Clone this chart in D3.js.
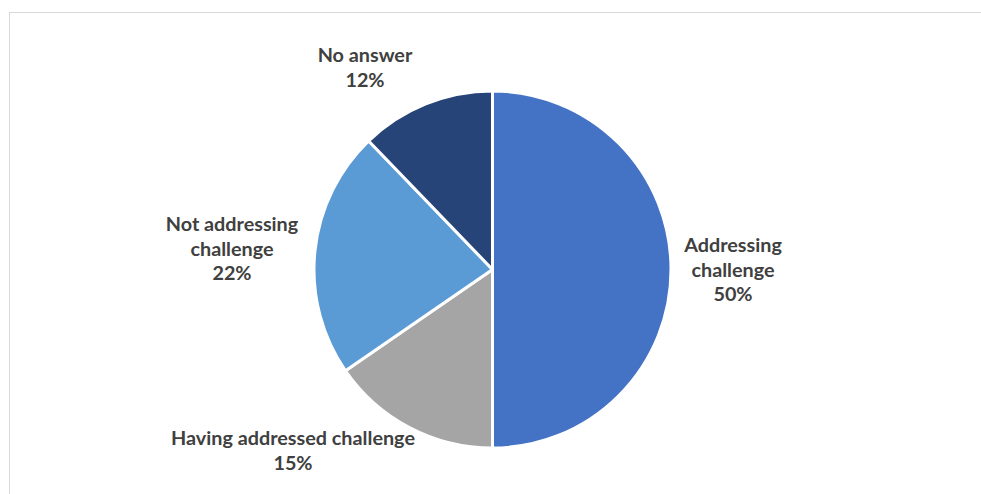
<!DOCTYPE html>
<html>
<head>
<meta charset="utf-8">
<script src="https://cdn.jsdelivr.net/npm/d3@7"></script>
<style>
  body { margin: 0; background: #fff; }
  text { font-family: Lato, "Open Sans", sans-serif; font-weight: 700; fill: #404040; }
</style>
</head>
<body>
<div id="chart-area"></div>
<script>
// data (clockwise from 12 o'clock)
const categories = ["Addressing challenge", "Having addressed challenge", "Not addressing challenge", "No answer"];
const values = [50.0, 15.4, 22.4, 12.2];
const colors = ["#4472C4", "#A5A5A5", "#5B9BD5", "#264478"];
// label text lines and anchor points
const labelLines = [["Addressing", "challenge"], ["Having addressed challenge"], ["Not addressing", "challenge"], ["No answer"]];
const labelPos = [[733, 252], [293, 445], [232, 231], [365, 62]];

const width = 981, height = 494;
const cx = 492.5, cy = 269.5, r = 178.5;

const svg = d3.select('#chart-area')
  .append('svg')
  .attr('width', width)
  .attr('height', height);

// chart frame
svg.append('rect')
  .attr('x', 9.5).attr('y', 12.5)
  .attr('width', width + 10).attr('height', height + 10)
  .attr('fill', 'none')
  .attr('stroke', '#d9d9d9')
  .attr('stroke-width', 1);

const data = categories.map((c, i) => ({cat: c, value: values[i], color: colors[i], lines: labelLines[i], pos: labelPos[i]}));

const pie = d3.pie().sort(null).value(d => d.value);
const arc = d3.arc().innerRadius(0).outerRadius(r);

const g = svg.append('g').attr('transform', `translate(${cx}, ${cy})`);

g.selectAll('path')
  .data(pie(data))
  .enter()
  .append('path')
  .attr('d', arc)
  .attr('fill', d => d.data.color)
  .attr('stroke', '#fff')
  .attr('stroke-width', 3)
  .attr('stroke-linejoin', 'round');

// labels
const lineH = 24.5;
const labels = svg.selectAll('.lbl')
  .data(data)
  .enter()
  .append('text')
  .attr('class', 'lbl')
  .attr('text-anchor', 'middle')
  .attr('font-size', 19.8);

labels.each(function(d) {
  const t = d3.select(this);
  const lines = d.lines.concat([Math.round(d.value) + '%']);
  lines.forEach((ln, i) => {
    t.append('tspan')
      .attr('x', d.pos[0])
      .attr('y', d.pos[1] + i * lineH)
      .text(ln);
  });
});
</script>
</body>
</html>
